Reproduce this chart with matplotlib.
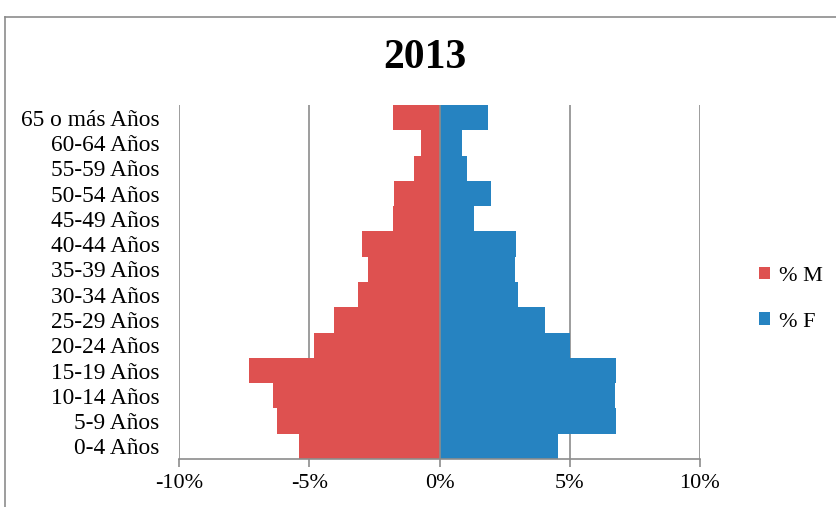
import matplotlib
matplotlib.use("Agg")
import matplotlib.pyplot as plt
from matplotlib.lines import Line2D
from matplotlib.ticker import FuncFormatter
import numpy as np

plt.rcParams['font.family'] = ['Liberation Serif', 'DejaVu Serif']

grupos = ["0-4 Años", "5-9 Años", "10-14 Años", "15-19 Años", "20-24 Años",
          "25-29 Años", "30-34 Años", "35-39 Años", "40-44 Años", "45-49 Años",
          "50-54 Años", "55-59 Años", "60-64 Años", "65 o más Años"]
hombres = [-5.41, -6.25, -6.40, -7.30, -4.82, -4.06, -3.12, -2.74, -2.96, -1.80,
           -1.73, -0.99, -0.70, -1.80]
mujeres = [4.55, 6.77, 6.72, 6.79, 5.01, 4.04, 3.01, 2.89, 2.93, 1.34,
           1.96, 1.06, 0.86, 1.86]

rojo = "#DE5150"
azul = "#2683C1"
gris = "#8C8C8C"

fig = plt.figure(figsize=(8.37, 5.07), dpi=100)
ax = fig.add_axes([0.2139, 0.0947, 0.6224, 0.698])

y = np.arange(len(grupos))
ax.barh(y, hombres, height=1.0, color=rojo, linewidth=0, label="% M", zorder=2)
ax.barh(y, mujeres, height=1.0, color=azul, linewidth=0, label="% F", zorder=2)

ax.set_xlim(-10, 10)
ax.set_ylim(-0.5, len(grupos) - 0.5)
ax.set_xticks([-10, -5, 0, 5, 10])
ax.xaxis.set_major_formatter(FuncFormatter(lambda v, p: "%d%%" % v))
ax.set_yticks(y)
ax.set_yticklabels(grupos)

for xv in [-10, -5, 5, 10]:
    ax.axvline(xv, color=gris, linewidth=1.2, zorder=1)
ax.axvline(0, color=gris, linewidth=1.2, zorder=3)

for s in ["top", "right", "left"]:
    ax.spines[s].set_visible(False)
ax.spines["bottom"].set_color(gris)
ax.spines["bottom"].set_linewidth(1.2)
ax.tick_params(axis="x", direction="out", length=6, width=1.2, color=gris,
               labelsize=16, pad=5)
ax.tick_params(axis="y", length=0, labelsize=16.8, pad=14)

fig.text(0.508, 0.886, "2013", ha="center", va="center", fontsize=30, fontweight="bold")

ax.legend(loc="center left", bbox_to_anchor=(0.907, 0.41), bbox_transform=fig.transFigure,
          frameon=False, fontsize=16, handlelength=0.5, handleheight=0.5,
          handletextpad=0.4, labelspacing=1.2, borderpad=0, borderaxespad=0)

# marco del grafico
fig.add_artist(Line2D([5 / 837, 5 / 837], [0, 1 - 17 / 507], transform=fig.transFigure,
                      color=gris, linewidth=1.2))
fig.add_artist(Line2D([5 / 837, 1], [1 - 17 / 507, 1 - 17 / 507], transform=fig.transFigure,
                      color=gris, linewidth=1.2))

fig.savefig("out.png", dpi=100)
